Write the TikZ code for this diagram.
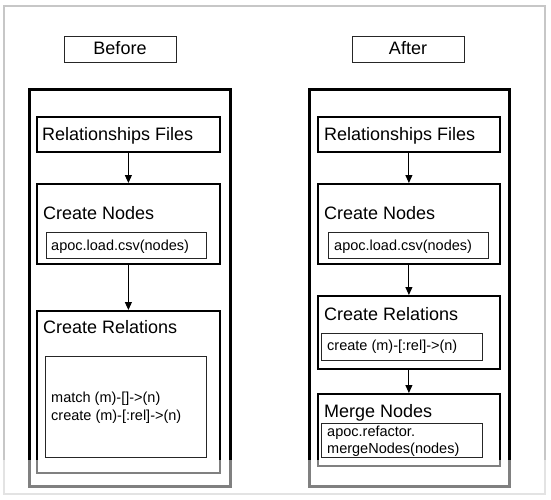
\documentclass[tikz,border=0pt]{standalone}
\usepackage{fontspec}
\setmainfont{Liberation Sans}
\usetikzlibrary{arrows.meta}
\begin{document}
\begin{tikzpicture}[x=1pt,y=-1pt,
  frame/.style={draw=black,line width=3pt,anchor=north west,inner sep=0pt},
  stagebox/.style={draw=black,line width=1.8pt,anchor=north west,inner sep=0pt},
  codebox/.style={draw=black!85,line width=1.1pt,anchor=north west,inner sep=0pt},
  headbox/.style={draw=black!85,line width=1.1pt,anchor=north west,inner sep=0pt},
  ttl/.style={anchor=base west,inner sep=0pt,font=\fontsize{18}{20}\selectfont},
  code/.style={anchor=base west,inner sep=0pt,font=\fontsize{14.5}{18}\selectfont},
  flow/.style={line width=1pt,-{Triangle[length=8pt,width=7pt]}}
]
\useasboundingbox (0,0) rectangle (551,500);
\fill[white] (0,0) rectangle (551,500);
\draw[black!22,line width=1.5pt] (4,6) rectangle (545,494);

% ---------- Before ----------
\node[headbox,minimum width=112pt,minimum height=26pt] (hb) at (64,36) {};
\node[anchor=base,inner sep=0pt,font=\fontsize{18}{20}\selectfont] (hbt) at (120,55) {Before};
\node[frame,minimum width=201pt,minimum height=397pt] (fb) at (28,88) {};

\node[stagebox,minimum width=183pt,minimum height=35pt] (rfb) at (36,116) {};
\node[ttl] (rfbt) at (42,140) {Relationships Files};

\node[stagebox,minimum width=183pt,minimum height=80pt] (cnb) at (36,183) {};
\node[ttl] (cnbt) at (43,219) {Create Nodes};
\node[codebox,minimum width=160pt,minimum height=26pt] (cnbc) at (46,232) {};
\node[code] (cnbct) at (51,250) {apoc.load.csv(nodes)};

\node[stagebox,minimum width=183pt,minimum height=162pt] (crb) at (36,310) {};
\node[ttl] (crbt) at (43,333) {Create Relations};
\node[codebox,minimum width=161pt,minimum height=101pt] (crbc) at (45,356) {};
\node[code] (crbc1) at (51,402.5) {match (m)-[]->(n)};
\node[code] (crbc2) at (51,420.5) {create (m)-[:rel]->(n)};

\draw[flow] (rfb.south) -- (cnb.north);
\draw[flow] (cnb.south) -- (crb.north);

% ---------- After ----------
\node[headbox,minimum width=112pt,minimum height=26pt] (ha) at (352,36) {};
\node[anchor=base,inner sep=0pt,font=\fontsize{18}{20}\selectfont] (hat) at (408,55) {After};
\node[frame,minimum width=200pt,minimum height=397pt] (fa) at (308,88) {};

\node[stagebox,minimum width=182pt,minimum height=35pt] (rfa) at (317,116) {};
\node[ttl] (rfat) at (324,140) {Relationships Files};

\node[stagebox,minimum width=182pt,minimum height=80pt] (cna) at (317,183) {};
\node[ttl] (cnat) at (324,219) {Create Nodes};
\node[codebox,minimum width=160pt,minimum height=26pt] (cnac) at (328,232) {};
\node[code] (cnact) at (334,250) {apoc.load.csv(nodes)};

\node[stagebox,minimum width=182pt,minimum height=73pt] (cra) at (317,295) {};
\node[ttl] (crat) at (324,320) {Create Relations};
\node[codebox,minimum width=161pt,minimum height=27pt] (crac) at (321,333) {};
\node[code] (cract) at (327,350) {create (m)-[:rel]->(n)};

\node[stagebox,minimum width=182pt,minimum height=72pt] (mna) at (317,393) {};
\node[ttl] (mnat) at (324,417) {Merge Nodes};
\node[codebox,minimum width=161pt,minimum height=34pt] (mnac) at (321,423) {};
\node[code] (mnac1) at (327,436) {apoc.refactor.};
\node[code] (mnac2) at (327,453) {mergeNodes(nodes)};

\draw[flow] (rfa.south) -- (cna.north);
\draw[flow] (cna.south) -- (cra.north);
\draw[flow] (cra.south) -- (mna.north);

% ---------- faded lower strip ----------
\fill[white,fill opacity=0.5] (0,460) rectangle (551,500);
\end{tikzpicture}
\end{document}
